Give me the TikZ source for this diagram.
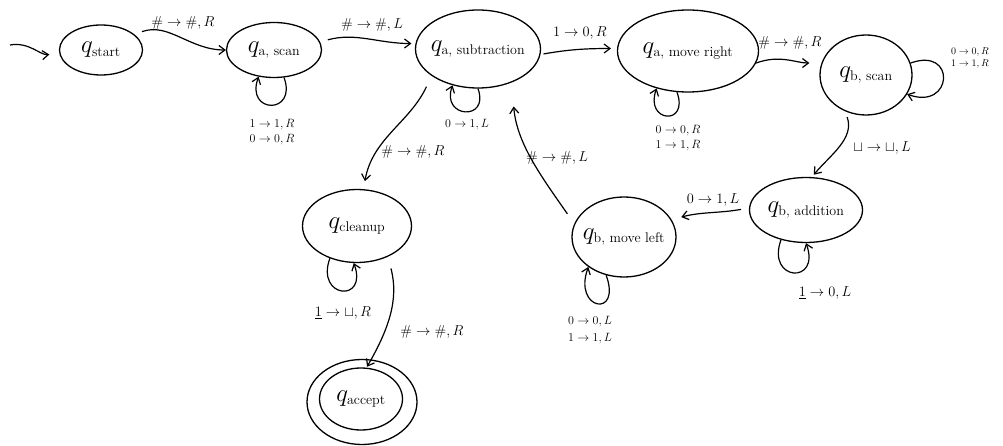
\documentclass[tikz,border=0pt]{standalone}
\usepackage{amsmath}
\usetikzlibrary{shapes.geometric,arrows.meta}
\newcommand{\qlab}[1]{$q_{\text{\fontsize{14}{16}\selectfont #1}}$}
\begin{document}
\begin{tikzpicture}[x=1pt,y=1pt,
  every loop/.style={},
  state/.style={draw, ellipse, line width=1.3pt, inner xsep=-8pt, inner ysep=0pt, font=\fontsize{28}{30}\selectfont},
  tr/.style={-{Straight Barb[length=6pt,width=9pt]}, line width=1.2pt},
  lp/.style={tr, looseness=4},
  lb/.style={font=\fontsize{14}{17}\selectfont, align=center, inner sep=1pt},
  lbs/.style={font=\fontsize{12}{19}\selectfont, align=center, inner sep=1pt}]
\useasboundingbox (0,0) rectangle (1003,-446);

% states
\node[state, minimum width=83, minimum height=50] (qs) at (101,-50) {\qlab{start}};
\node[state, minimum width=95, minimum height=55] (qas) at (274,-50) {\qlab{a, scan}};
\node[state, minimum width=125, minimum height=78] (qasub) at (478,-49) {\qlab{a, subtraction}};
\node[state, minimum width=141, minimum height=82] (qamr) at (688,-51) {\qlab{a, move right}};
\node[state, minimum width=92, minimum height=80] (qbs) at (866,-75) {\qlab{b, scan}};
\node[state, minimum width=113, minimum height=65] (qba) at (806,-210) {\qlab{b, addition}};
\node[state, minimum width=104, minimum height=80] (qbml) at (624,-237) {\qlab{b, move left}};
\node[state, minimum width=109, minimum height=73] (qc) at (357,-226) {\qlab{cleanup}};
\node[state, minimum width=110, minimum height=85] (qacc) at (362,-402) {};
\node[state, minimum width=83, minimum height=62] (qaccin) at (361,-399) {\qlab{accept}};

% start arrow
\coordinate (st) at (10,-45);
\draw[tr, shorten >=10pt] (st) to[out=10,in=185] (qs.185);

% transitions
\draw[tr, shorten <=8pt] (qs.25) to[out=20,in=180] (qas.west)
  node[lb] at (183,-23) {$\#\to\#, R$};
\draw[tr, shorten <=8pt, shorten >=4pt] (qas.10) to[out=15,in=180] (qasub.175)
  node[lb] at (372,-25) {$\#\to\#, L$};
\draw[tr, shorten <=3pt, shorten >=6pt] (qasub.-5) to[out=10,in=180] (qamr.178)
  node[lb] at (580,-33) {$1\to0, R$};
\draw[tr, shorten >=12pt] (qamr.-10) to[out=20,in=180] (qbs.165)
  node[lb] at (790,-43) {$\#\to\#, R$};
\draw[tr, shorten <=6pt, shorten >=3pt] (qbs.240) to[out=-70,in=50] (qba.80)
  node[lb] at (882,-148) {$\sqcup\to\sqcup, L$};
\draw[tr, shorten <=8pt, shorten >=10pt] (qba.178) to[out=190,in=15] (qbml.20)
  node[lb] at (713,-200) {$0\to1, L$};
\draw[tr, shorten <=12pt, shorten >=24pt] (qbml.165) to[out=125,in=-85] (qasub.-45)
  node[lb] at (557,-158) {$\#\to\#, L$};
\draw[tr, shorten <=12pt, shorten >=8pt] (qasub.-150) to[out=-115,in=80] (qc.80)
  node[lb] at (413,-152) {$\#\to\#, R$};
\draw[tr, shorten <=12pt, shorten >=1pt] (qc.-45) to[out=-75,in=60] (qaccin.80)
  node[lb] at (432,-332) {$\#\to\#, R$};

% loops
\draw[lp] (qas.-70) to[out=-70,in=-110] (qas.-120)
  node[lbs] at (272,-132) {$1\to1, R$\\[-4pt]$0\to0, R$};
\draw[lp, looseness=3.5] (qasub.-90) to[out=-70,in=-110] (qasub.-125)
  node[lbs] at (467,-125) {$0\to1, L$};
\draw[lp, looseness=4.5] (qamr.-105) to[out=-70,in=-110] (qamr.-130)
  node[lbs] at (678,-138) {$0\to0, R$\\[-4pt]$1\to1, R$};
\draw[tr, looseness=4] (qbs.15) to[out=20,in=-20] (qbs.-25)
  node[lbs, font=\fontsize{10}{12}\selectfont] at (970,-58) {$0\to0, R$\\$1\to1, R$};
\draw[lp, looseness=6] (qbml.-115) to[out=-70,in=-110] (qbml.-140)
  node[lbs] at (590,-330) {$0\to0, L$\\[-2pt]$1\to1, L$};
\draw[lp, looseness=4.5] (qc.-130) to[out=-110,in=-70] (qc.-95)
  node[lb] at (343,-313) {$\underline{1}\to\sqcup, R$};
\draw[lp, looseness=4.5] (qba.-130) to[out=-110,in=-70] (qba.-90)
  node[lb] at (825,-293) {$\underline{1}\to0, L$};
\end{tikzpicture}
\end{document}
